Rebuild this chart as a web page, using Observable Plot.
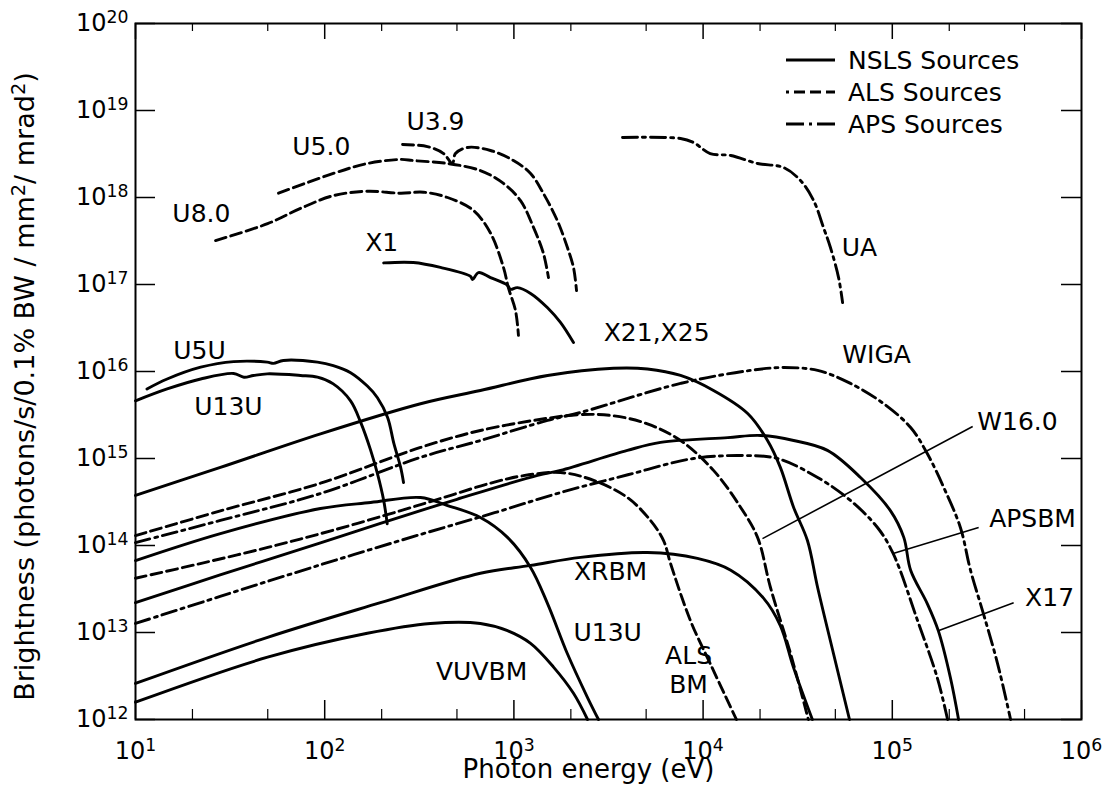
<!DOCTYPE html>
<html><head><meta charset="utf-8">
<script src="https://cdn.jsdelivr.net/npm/d3@7"></script>
<script src="https://cdn.jsdelivr.net/npm/@observablehq/plot@0.6"></script>
<style>
body{margin:0;background:#fff;}
#wrap{position:relative;width:1105px;height:808px;}
#legend{position:absolute;left:786px;top:44px;font-family:"DejaVu Sans",sans-serif;font-size:25px;color:#000;z-index:2;}
.row{display:flex;align-items:center;height:32px;white-space:nowrap;}
.row svg{margin-right:13px;}
</style></head><body>
<div id="wrap"><div id="legend"></div></div>
<script>
// ---- data: [photon energy (eV), brightness] ----
const X1 = [[205,1.77e17],[294,1.79e17],[409,1.57e17],[590,1.24e17],[604,1.14e17],[650,1.37e17],[752,1.2e17],[925,9.8e16],[959,8.8e16],[1044,9.2e16],[1225,7.9e16],[1506,5.4e16],[1762,3.66e16],[2065,2.15e16]];
const U5U = [[11.5,6.3e15],[14.7,8.2e15],[22.1,1.12e16],[33,1.3e16],[49.7,1.28e16],[53.6,1.24e16],[60.5,1.34e16],[91.6,1.28e16],[111,1.17e16],[137,9.7e15],[168,6.8e15],[190,5.0e15],[215,2.96e15],[232,1.49e15],[252,7.9e14],[261,5.3e14]];
const U13U_upper = [[10,4.6e15],[14.7,6.3e15],[22.1,8.2e15],[33,9.5e15],[37.4,8.6e15],[42,9.0e15],[49.7,9.4e15],[74.5,9.0e15],[91.6,8.6e15],[111,7.2e15],[137,4.6e15],[155,2.6e15],[175,1.24e15],[190,6.7e14],[205,3.3e14],[214,1.78e14]];
const X21_X25 = [[10,3.76e14],[28.1,7.9e14],[95,1.92e15],[321,4.26e15],[665,6.05e15],[1506,9.0e15],[3360,1.09e16],[5080,1.07e16],[7600,9.0e15],[11350,6.05e15],[17200,3.29e15],[21900,1.61e15],[25600,7.9e14],[30100,2.74e14],[35600,1.14e14],[40300,3.29e13],[48900,5.7e12],[59400,1e12]];
const U13U_lower = [[10,6.7e13],[28.1,1.37e14],[95,2.66e14],[175,3.12e14],[321,3.56e14],[446,2.88e14],[665,2.1e14],[925,1.24e14],[1225,5.6e13],[1506,2.15e13],[1918,5.7e12],[2450,1.79e12],[2800,1e12]];
const X17 = [[10,2.2e13],[28,4.6e13],[95,1.07e14],[197,1.8e14],[500,3.4e14],[1334,6.4e14],[1762,7.3e14],[3980,1.24e15],[5960,1.53e15],[13500,1.74e15],[20100,1.84e15],[30100,1.61e15],[45400,1.24e15],[67900,6.05e14],[97700,2.52e14],[115000,1.24e14],[125000,5.2e13],[153000,2.15e13],[175000,1.05e13],[203000,3.0e12],[224000,1e12]];
const XRBM = [[10,2.6e12],[49.9,8.8e12],[197,2.2e13],[665,4.8e13],[1225,5.9e13],[2250,7.3e13],[5080,8.3e13],[9330,7.1e13],[14000,5.2e13],[20800,2.5e13],[25600,1.2e13],[30000,4e12],[37800,1e12]];
const VUVBM = [[10,1.58e12],[49.9,5.2e12],[168,9.8e12],[362,1.27e13],[665,1.27e13],[925,1.05e13],[1225,7.5e12],[1620,4.0e12],[2065,2.0e12],[2450,1e12]];

const U8_0 = [[26.5,3.2e17],[49.9,5.0e17],[74.5,7.5e17],[111,1.05e18],[168,1.18e18],[252,1.12e18],[333,1.15e18],[446,1.0e18],[611,7.1e17],[752,3.9e17],[881,1.57e17],[935,9.2e16],[1020,5.0e16],[1057,2.6e16]];
const U5_0 = [[57,1.12e18],[111,1.89e18],[168,2.46e18],[252,2.74e18],[294,2.66e18],[446,2.46e18],[665,2.04e18],[881,1.45e18],[1084,9.2e17],[1271,4.5e17],[1433,2.27e17],[1523,1.2e17]];
const U3_9 = [[258,4.06e18],[349,3.85e18],[425,3.2e18],[473,2.46e18],[491,3.2e18],[569,3.76e18],[752,3.47e18],[995,2.66e18],[1225,1.89e18],[1433,1.11e18],[1698,5.4e17],[1918,2.66e17],[2065,1.57e17],[2143,8.5e16]];
const W16_0 = [[10,1.3e14],[28.1,2.5e14],[95,5.2e14],[321,1.34e15],[665,2.1e15],[1506,2.9e15],[2250,3.2e15],[3360,3.1e15],[5080,2.5e15],[7600,1.61e15],[11350,7.3e14],[15800,2.74e14],[19400,1.24e14],[22700,3.29e13],[29000,5.7e12],[36000,1e12]];
const ALS_BM = [[10,4.2e13],[22,6.2e13],[50,9.5e13],[111,1.5e14],[250,2.5e14],[450,3.7e14],[750,5.2e14],[1100,6.3e14],[1762,6.9e14],[2640,5.6e14],[3980,3.56e14],[5270,1.94e14],[6180,1.14e14],[6730,6.2e13],[8570,1.37e13],[10900,4.4e12],[15000,1e12]];

const UA = [[3750,4.9e18],[7600,4.77e18],[8900,4.29e18],[10900,3.2e18],[14000,3.04e18],[19400,2.46e18],[26600,2.21e18],[32700,1.57e18],[38400,9.2e17],[43300,4.5e17],[47100,2.66e17],[52000,1.2e17],[54600,6.2e16]];
const WIGA = [[10,1.08e14],[28.1,1.94e14],[95,3.96e14],[321,1.03e15],[665,1.61e15],[1506,2.74e15],[2250,3.38e15],[7600,7.3e15],[17800,1.03e16],[26600,1.11e16],[40300,1.03e16],[60100,7.3e15],[89700,4.29e15],[125000,2.27e15],[153000,1.14e15],[187000,4.65e14],[229000,1.61e14],[259000,5.2e13],[303000,1.65e13],[360000,4.4e12],[422000,1e12]];
const APSBM = [[10,1.27e13],[28,2.6e13],[95,6e13],[321,1.34e14],[800,2.4e14],[1762,4.06e14],[4000,6.5e14],[8900,1.0e15],[16400,1.08e15],[24700,1.0e15],[40300,6.05e14],[60100,3.29e14],[83500,1.61e14],[101000,8.1e13],[136000,1.37e13],[173000,3.0e12],[196000,1e12]];

const sources = ["NSLS","ALS","APS"];
const legendLabels = ["NSLS Sources","ALS Sources","APS Sources"];
const seriesList = [
  {name:"X1",src:"NSLS",pts:X1},{name:"U5U",src:"NSLS",pts:U5U},{name:"U13U_upper",src:"NSLS",pts:U13U_upper},
  {name:"X21_X25",src:"NSLS",pts:X21_X25},{name:"U13U_lower",src:"NSLS",pts:U13U_lower},{name:"X17",src:"NSLS",pts:X17},
  {name:"XRBM",src:"NSLS",pts:XRBM},{name:"VUVBM",src:"NSLS",pts:VUVBM},
  {name:"U8.0",src:"ALS",pts:U8_0},{name:"U5.0",src:"ALS",pts:U5_0},{name:"U3.9",src:"ALS",pts:U3_9},
  {name:"W16.0",src:"ALS",pts:W16_0},{name:"ALS BM",src:"ALS",pts:ALS_BM},
  {name:"UA",src:"APS",pts:UA},{name:"WIGA",src:"APS",pts:WIGA},{name:"APSBM",src:"APS",pts:APSBM}
];

// curve labels: [text, energy, brightness]
const curveLabels = [
  ["U8.0",22.3,6.5e17],["U5.0",96,3.85e18],["U3.9",385,7.3e18],["X1",200,3.0e17],["UA",67100,2.6e17],
  ["U5U",21.8,1.7e16],["U13U",31,3.86e15],["X21,X25",5680,2.74e16],["WIGA",82600,1.53e16],
  ["W16.0",459000,2.6e15],["APSBM",551000,1.99e14],["X17",678000,2.46e13],["XRBM",3240,4.9e13],
  ["U13U",3130,9.8e12],["VUVBM",675,3.56e12],["ALS",8380,5.3e12],["BM",8380,2.5e12]
];
// leader lines: [from E, from B, to E, to B]
const leaders = [
  [266000,2.33e15,20600,1.2e14],
  [286000,1.61e14,101000,8.1e13],
  [438000,2.2e13,175000,1.05e13]
];

const xMajor = [1e1,1e2,1e3,1e4,1e5,1e6];
const xMinor = [20,50,200,500,2000,5000,2e4,5e4,2e5,5e5];
const yMajor = [1e12,1e13,1e14,1e15,1e16,1e17,1e18,1e19,1e20];
const yTitle = "Brightness (photons/s/0.1% BW / mm^2/ mrad^2)";
const xTitle = "Photon energy (eV)";

// ---- build ----
const rows = seriesList.flatMap(s => s.pts.map(([E,B]) => ({name:s.name, src:s.src, E, B})));
const dashes = {NSLS:null, ALS:"11,5", APS:"15,5,3,5"};
const legendDashes = {NSLS:null, ALS:"11,5", APS:"18,5,3,5"};
const legendOffsets = {NSLS:0, ALS:8, APS:0};
const fmt = d => `10^${Math.round(Math.log10(d))}`;
const pw = 1105-135-24, ph = 808-23-89;

const lineMarks = sources.map(src => Plot.line(rows.filter(r => r.src === src), {
  x:"E", y:"B", z:"name", curve:"catmull-rom", stroke:"#000", strokeWidth:2.9,
  strokeDasharray: dashes[src] || undefined
}));

const chart = Plot.plot({
  width:1105, height:808, marginLeft:135, marginRight:24, marginTop:23, marginBottom:89,
  style:{fontFamily:"'DejaVu Sans', sans-serif", fontSize:"24px", color:"#000", background:"#fff"},
  x:{type:"log", domain:[10,1e6], label:null},
  y:{type:"log", domain:[1e12,1e20], label:null},
  marks:[
    Plot.axisX(xMajor, {anchor:"bottom", tickSize:0, tickPadding:22, tickFormat:fmt, fontSize:24, label:null}),
    Plot.axisY(yMajor, {anchor:"left", tickSize:0, tickPadding:7, tickFormat:fmt, fontSize:24, label:null}),
    Plot.tickX(xMajor, {x:d=>d, insetTop:ph-19, strokeWidth:1.5}),
    Plot.tickX(xMinor, {x:d=>d, insetTop:ph-10, strokeWidth:1.2}),
    Plot.tickX(xMajor, {x:d=>d, insetBottom:ph-16, strokeWidth:1.5}),
    Plot.tickX(xMinor, {x:d=>d, insetBottom:ph-8, strokeWidth:1.2}),
    Plot.tickY(yMajor, {y:d=>d, insetRight:pw-20, strokeWidth:1.5}),
    Plot.tickY(yMajor, {y:d=>d, insetLeft:pw-20, strokeWidth:1.5}),
    Plot.frame({strokeWidth:2}),
    ...lineMarks,
    Plot.link(leaders, {x1:d=>d[0], y1:d=>d[1], x2:d=>d[2], y2:d=>d[3], stroke:"#000", strokeWidth:1.6}),
    Plot.text(curveLabels, {x:d=>d[1], y:d=>d[2], text:d=>d[0], fontSize:25, fill:"#000"}),
    Plot.text([yTitle], {frameAnchor:"left", textAnchor:"middle", dx:-110, dy:15, rotate:-90, fontSize:27, fill:"#000"}),
    Plot.text([xTitle], {frameAnchor:"bottom", textAnchor:"middle", dx:-20, dy:58, fontSize:26, fill:"#000"})
  ]
});

// superscripts
d3.select(chart).selectAll("text").each(function(){
  const t = this.textContent;
  if (!t.includes("^")) return;
  const parts = t.split(/\^(\d+)/);
  const sel = d3.select(this);
  sel.text(null);
  let raised = false;
  parts.forEach((p,i) => {
    if (p === "") return;
    const ts = sel.append("tspan").text(p);
    if (i % 2 === 1) { ts.attr("font-size","72%").attr("dy","-0.45em"); raised = true; }
    else if (raised) { ts.attr("dy","0.32em"); raised = false; }
  });
});

document.getElementById("wrap").prepend(chart);

// legend
const leg = d3.select("#legend");
sources.forEach((src,i) => {
  const row = leg.append("div").attr("class","row");
  const s = row.append("svg").attr("width",49).attr("height",12);
  s.append("line").attr("x1",0).attr("x2",49).attr("y1",6).attr("y2",6)
    .attr("stroke","#000").attr("stroke-width",3)
    .attr("stroke-dasharray", legendDashes[src])
    .attr("stroke-dashoffset", legendOffsets[src]);
  row.append("span").text(legendLabels[i]);
});
</script>
</body></html>
